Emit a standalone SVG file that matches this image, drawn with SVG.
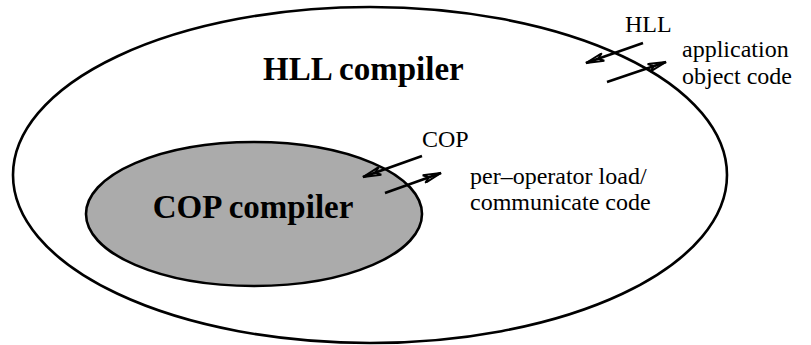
<svg xmlns="http://www.w3.org/2000/svg" width="811" height="345" viewBox="0 0 811 345">
<style>
text{font-family:"Liberation Serif","Times New Roman",Times,serif;fill:#000}
.b{font-weight:bold;font-size:33px}
.s{font-size:24px}
.c{fill:none;stroke:#000;stroke-width:2.6}
</style>
<defs>
<marker id="ah" viewBox="0 0 20 10" refX="19" refY="5" markerWidth="20" markerHeight="10" markerUnits="userSpaceOnUse" orient="auto">
<path d="M1,1 L19,5 L1,9 L6,5 Z" fill="none" stroke="#000" stroke-width="2"/>
</marker>
</defs>
<rect width="811" height="345" fill="#fff"/>
<g id="hll-compiler">
<ellipse cx="370" cy="175" rx="357" ry="168" fill="none" stroke="#000" stroke-width="2.6"/>
<text class="b" x="263" y="80">HLL compiler</text>
</g>
<g id="cop-compiler">
<ellipse cx="254" cy="214" rx="168" ry="72" fill="#ababab" stroke="#000" stroke-width="2.6"/>
<text class="b" x="253" y="218" text-anchor="middle">COP compiler</text>
</g>
<g id="labels">
<text class="s" x="625" y="32">HLL</text>
<text class="s" x="682" y="57">application</text>
<text class="s" x="682" y="84">object code</text>
<text class="s" x="422" y="147">COP</text>
<text class="s" x="470" y="184">per–operator load/</text>
<text class="s" x="470" y="210">communicate code</text>
</g>
<g id="connectors">
<line class="c" x1="643" y1="43" x2="586" y2="63" marker-end="url(#ah)"/>
<line class="c" x1="607" y1="82" x2="666" y2="62" marker-end="url(#ah)"/>
<line class="c" x1="422" y1="156" x2="363" y2="177" marker-end="url(#ah)"/>
<line class="c" x1="385" y1="193" x2="441" y2="173" marker-end="url(#ah)"/>
</g>
</svg>
